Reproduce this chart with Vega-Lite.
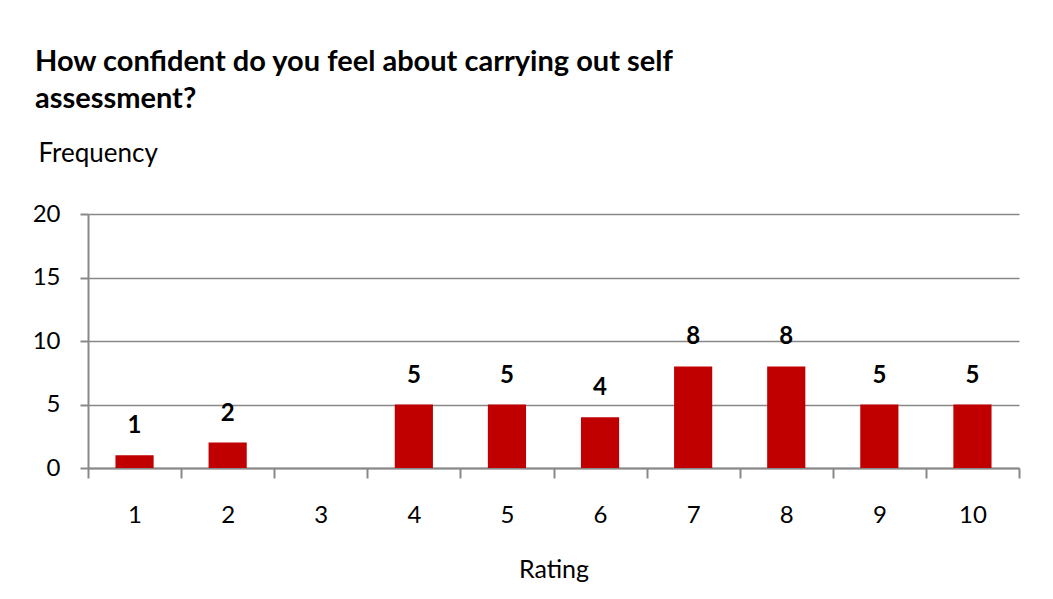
{
  "$schema": "https://vega.github.io/schema/vega-lite/v6.json",
  "autosize": "none",
  "width": 931,
  "height": 254,
  "padding": {"left": 88, "top": 214, "right": 34, "bottom": 131},
  "background": "white",
  "title": {
    "text": ["How confident  do you feel about carrying  out self", "assessment?"],
    "anchor": "start",
    "frame": "group",
    "dx": -53,
    "offset": 26,
    "font": "Lato",
    "fontSize": 29,
    "fontWeight": "bold",
    "color": "#000000",
    "lineHeight": 37
  },
  "data": {
    "values": [
      {"Rating": "1", "Frequency": 1},
      {"Rating": "2", "Frequency": 2},
      {"Rating": "3", "Frequency": 0},
      {"Rating": "4", "Frequency": 5},
      {"Rating": "5", "Frequency": 5},
      {"Rating": "6", "Frequency": 4},
      {"Rating": "7", "Frequency": 8},
      {"Rating": "8", "Frequency": 8},
      {"Rating": "9", "Frequency": 5},
      {"Rating": "10", "Frequency": 5}
    ]
  },
  "encoding": {
    "x": {
      "field": "Rating",
      "type": "ordinal",
      "sort": null,
      "scale": {"paddingInner": 0, "paddingOuter": 0},
      "axis": {
        "title": "Rating",
        "titleFont": "Lato",
        "titleFontSize": 25,
        "titleFontWeight": "normal",
        "titleColor": "#000000",
        "titlePadding": 30,
        "labelAngle": 0,
        "labelFont": "Lato",
        "labelFontSize": 24,
        "labelColor": "#000000",
        "labelPadding": 25,
        "tickBand": "extent",
        "tickSize": 10,
        "tickColor": "#888888",
        "tickWidth": 2,
        "domainColor": "#888888",
        "domainWidth": 2,
        "grid": false
      }
    },
    "y": {
      "field": "Frequency",
      "type": "quantitative",
      "scale": {"domain": [0, 20]},
      "axis": {
        "values": [0, 5, 10, 15, 20],
        "title": "Frequency",
        "titleAngle": 0,
        "titleAlign": "left",
        "titleBaseline": "middle",
        "titleX": -50,
        "titleY": -61,
        "titleFont": "Lato",
        "titleFontSize": 26,
        "titleFontWeight": "normal",
        "titleColor": "#000000",
        "labelFont": "Lato",
        "labelFontSize": 24,
        "labelColor": "#000000",
        "labelPadding": 20,
        "tickSize": 8,
        "tickColor": "#888888",
        "tickWidth": 2,
        "domainColor": "#888888",
        "domainWidth": 2,
        "grid": true,
        "gridColor": "#888888",
        "gridWidth": 1.5
      }
    }
  },
  "layer": [
    {
      "mark": {"type": "bar", "color": "#C00000", "width": {"band": 0.41}}
    },
    {
      "transform": [{"filter": "datum.Frequency > 0"}],
      "mark": {
        "type": "text",
        "baseline": "bottom",
        "dy": -17,
        "font": "Lato",
        "fontSize": 24,
        "fontWeight": "bold",
        "color": "#000000"
      },
      "encoding": {"text": {"field": "Frequency", "type": "quantitative"}}
    }
  ],
  "config": {
    "view": {"stroke": null}
  }
}
